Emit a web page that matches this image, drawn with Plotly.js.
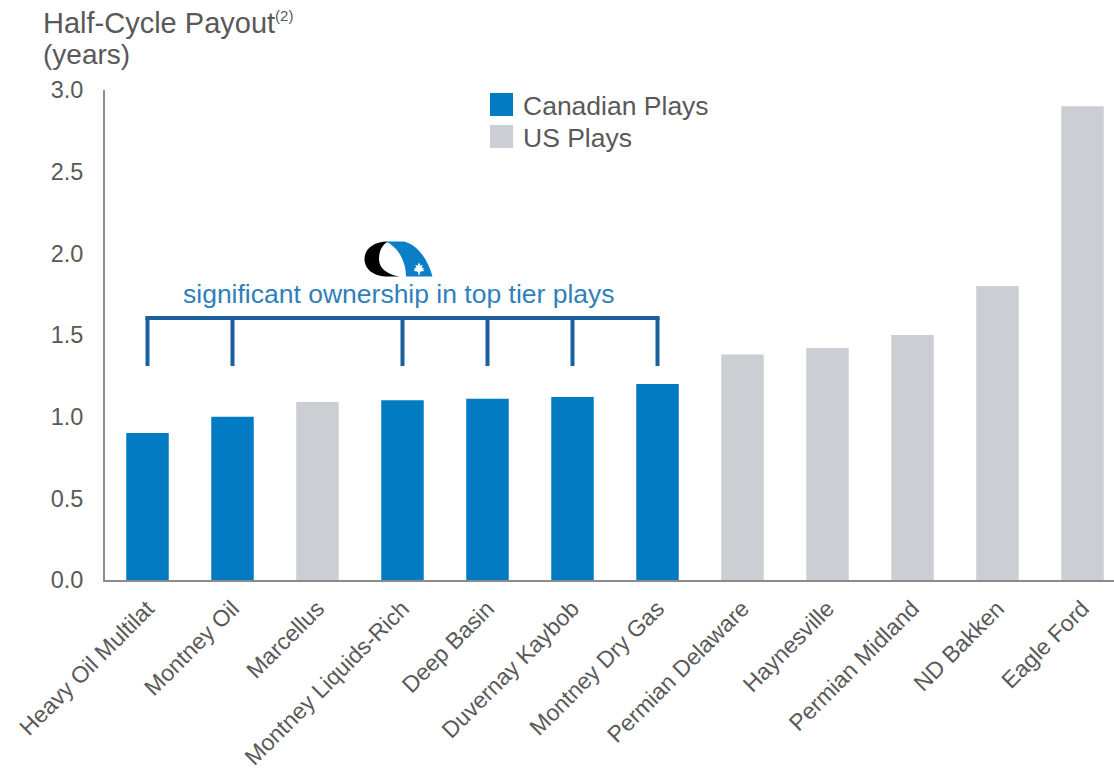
<!DOCTYPE html>
<html>
<head>
<meta charset="utf-8">
<script src="https://cdn.plot.ly/plotly-3.0.1.min.js"></script>
<style>html,body{margin:0;padding:0;background:#fff;}#chart{width:1114px;height:770px;}</style>
</head>
<body>
<div id="chart"></div>
<script>
// ---- data ----
const categories = ['Heavy Oil Multilat','Montney Oil','Marcellus','Montney Liquids-Rich','Deep Basin','Duvernay Kaybob','Montney Dry Gas','Permian Delaware','Haynesville','Permian Midland','ND Bakken','Eagle Ford'];
const canadianPlays = ['Heavy Oil Multilat','Montney Oil','Montney Liquids-Rich','Deep Basin','Duvernay Kaybob','Montney Dry Gas'];
const canadianValues = [0.90, 1.00, 1.10, 1.11, 1.12, 1.20];
const usPlays = ['Marcellus','Permian Delaware','Haynesville','Permian Midland','ND Bakken','Eagle Ford'];
const usValues = [1.09, 1.38, 1.42, 1.50, 1.80, 2.90];
const yTicks = [0, 0.5, 1.0, 1.5, 2.0, 2.5, 3.0];
const legendNames = ['Canadian Plays', 'US Plays'];
const titleText = 'Half-Cycle Payout<sup><span style="font-size:15px">(2)</span></sup>';
const unitText = '(years)';
const bracketText = 'significant ownership in top tier plays';

// ---- styles ----
const FONT = 'Liberation Sans, Arial, sans-serif';
const GREY_TXT = '#595959';
const BLUE = '#027bc3';
const GREY_BAR = '#cbced2';
const BRACKET = '#1b5f9c';

// plot-area geometry (px) for paper conversions
const L = 105, R = 1114, T = 90, B = 580;
const px2paperX = p => (p - L) / (R - L);
const px2paperY = p => (B - p) / (B - T);

const traces = [
  {type:'bar', name: legendNames[0], x: canadianPlays, y: canadianValues,
   marker:{color: BLUE}, showlegend:false, hoverinfo:'x+y'},
  {type:'bar', name: legendNames[1], x: usPlays, y: usValues,
   marker:{color: GREY_BAR}, showlegend:false, hoverinfo:'x+y'}
];

// bracket positions: indices of Canadian plays in category order
const bracketIdx = canadianPlays.map(c => categories.indexOf(c));
const yTop = 1.604, yBot = 1.31;
const shapes = [];
const minI = Math.min(...bracketIdx), maxI = Math.max(...bracketIdx);
shapes.push({type:'line', xref:'x', yref:'y', x0:minI-0.025, x1:maxI+0.025, y0:yTop, y1:yTop,
  line:{color:BRACKET, width:4}});
bracketIdx.forEach(i => shapes.push({type:'line', xref:'x', yref:'y', x0:i, x1:i, y0:yBot, y1:yTop,
  line:{color:BRACKET, width:4}}));

// custom legend squares
shapes.push({type:'rect', xref:'paper', yref:'paper', x0:px2paperX(490), x1:px2paperX(513),
  y0:px2paperY(116), y1:px2paperY(93), fillcolor:BLUE, line:{width:0}});
shapes.push({type:'rect', xref:'paper', yref:'paper', x0:px2paperX(490), x1:px2paperX(513),
  y0:px2paperY(148), y1:px2paperY(125), fillcolor:GREY_BAR, line:{width:0}});

const annotations = [
  {xref:'paper', yref:'paper', x:px2paperX(521), y:px2paperY(106), xanchor:'left', yanchor:'middle',
   text: legendNames[0], showarrow:false, font:{family:FONT, size:26.5, color:GREY_TXT}},
  {xref:'paper', yref:'paper', x:px2paperX(521), y:px2paperY(138), xanchor:'left', yanchor:'middle',
   text: legendNames[1], showarrow:false, font:{family:FONT, size:26.5, color:GREY_TXT}},
  {xref:'paper', yref:'paper', x:px2paperX(399), y:px2paperY(294), xanchor:'center', yanchor:'middle',
   text: bracketText, showarrow:false, font:{family:FONT, size:26.5, color:'#2f7fba'}},
  {xref:'paper', yref:'paper', x:px2paperX(41), y:px2paperY(23), xanchor:'left', yanchor:'middle',
   text: titleText, showarrow:false, font:{family:FONT, size:29, color:GREY_TXT}},
  {xref:'paper', yref:'paper', x:px2paperX(41), y:px2paperY(54), xanchor:'left', yanchor:'middle',
   text: unitText, showarrow:false, font:{family:FONT, size:28, color:GREY_TXT}}
];

// logo (decorative) as inline SVG
const logoSvg = '<svg xmlns="http://www.w3.org/2000/svg" viewBox="0 0 69 35" preserveAspectRatio="none">' +
  '<path d="M24 0.5 C8 0.5 0.5 9 0.5 17.5 C0.5 27 9 34.5 24 34.5 L36 34.5 C24 33 15 27 15 17.5 C15 9 19 3 24 0.5 Z" fill="#000"/>' +
  '<path d="M21 0.5 L40 0.5 C54 4 64 18 68.5 34.5 L42 34.5 C42 20 34 5 21 0.5 Z" fill="#0a7fc8"/>' +
  '<polygon points="55,21 56.5,24 58.5,23 57.8,26.5 60,26 59,28 60.5,29 56,30 55.5,33 54.5,33 54,30 49.5,29 51,28 50,26 52.2,26.5 51.5,23 53.5,24" fill="#fff"/>' +
  '</svg>';
const images = [{
  source: 'data:image/svg+xml;charset=utf-8,' + encodeURIComponent(logoSvg),
  xref:'paper', yref:'paper', x:px2paperX(364), y:px2paperY(241),
  sizex:69/(R-L), sizey:36/(B-T), xanchor:'left', yanchor:'top', sizing:'stretch', layer:'above'
}];

const layout = {
  width:1114, height:770,
  margin:{l:L, r:1114-R, t:T, b:770-B, pad:0},
  paper_bgcolor:'#fff', plot_bgcolor:'#fff',
  font:{family:FONT, color:GREY_TXT},
  barmode:'relative', bargap:0.5,
  showlegend:false,
  xaxis:{type:'category', categoryorder:'array', categoryarray:categories,
         range:[-0.5, -0.5 + (R-L)/85],
         tickangle:-45, tickfont:{family:FONT, size:23, color:GREY_TXT},
         showline:true, linecolor:'#8c8c8c', linewidth:2, showgrid:false, zeroline:false,
         ticks:'', ticklabelstandoff:4, fixedrange:true},
  yaxis:{range:[0,3], tickvals:yTicks, tickformat:'.1f', tickfont:{family:FONT, size:23.5, color:GREY_TXT},
         showline:true, linecolor:'#8c8c8c', linewidth:2, showgrid:false, zeroline:false,
         ticks:'', ticklabelstandoff:15, fixedrange:true},
  shapes: shapes, annotations: annotations, images: images
};

Plotly.newPlot('chart', traces, layout, {displayModeBar:false, staticPlot:true});
</script>
</body>
</html>
